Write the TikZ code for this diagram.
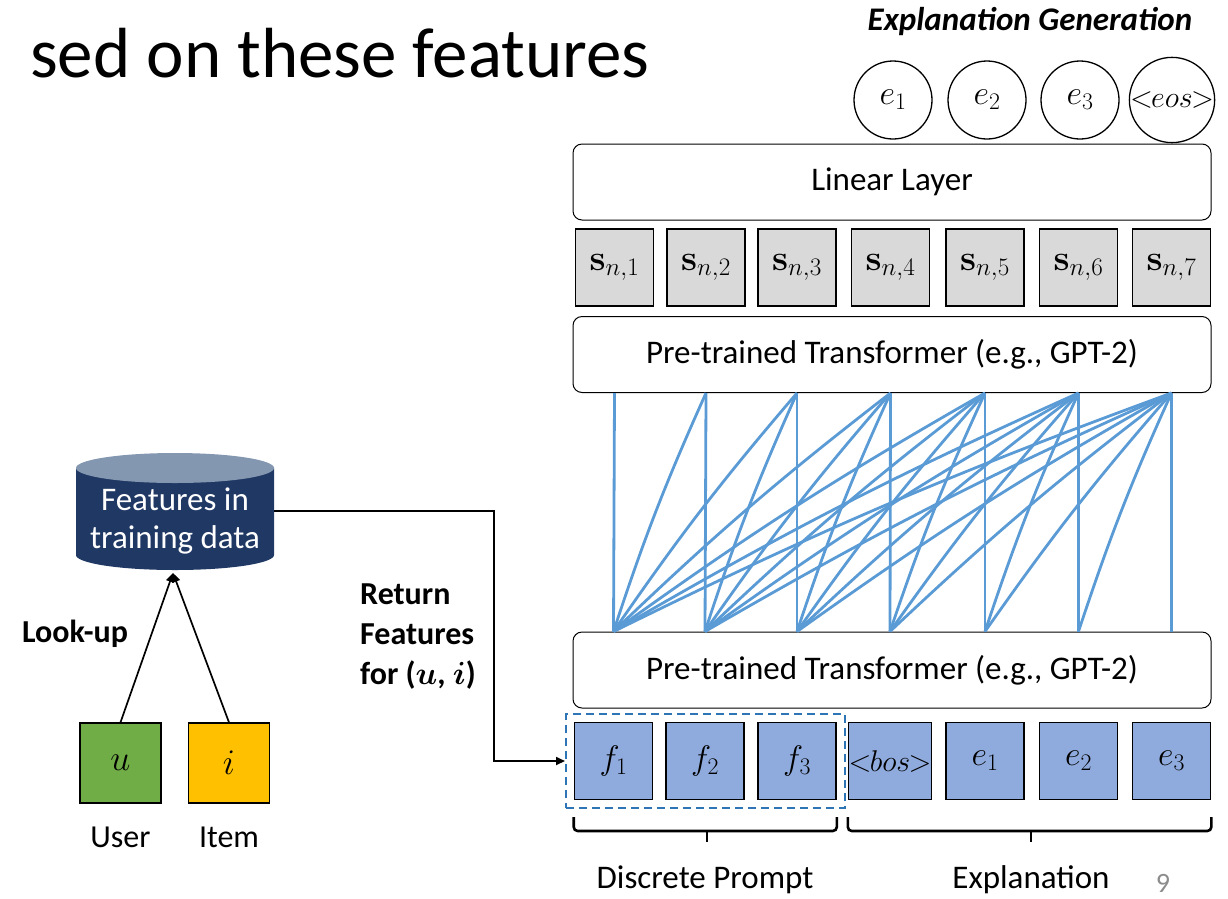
\RequirePackage{fix-cm}
\documentclass[tikz,border=0pt]{standalone}
\usepackage[no-math]{fontspec}
\usepackage{bm}
\setmainfont{Carlito}
\usetikzlibrary{arrows.meta,calc}

\definecolor{attn}{HTML}{5B9BD5}
\definecolor{tokfill}{HTML}{8FAADC}
\definecolor{sfill}{HTML}{D9D9D9}
\definecolor{dashblue}{HTML}{2E75B6}
\definecolor{dbnavy}{HTML}{203864}
\definecolor{dbtop}{HTML}{8497B0}
\definecolor{userg}{HTML}{70AD47}
\definecolor{itemy}{HTML}{FFC000}
\definecolor{pagegrey}{HTML}{8C8C8C}

\tikzset{
  widebox/.style={draw, rounded corners=9pt, line width=1pt, minimum width=638pt,
    minimum height=76pt, inner sep=0pt, font=\fontsize{33}{40}\selectfont},
  sbox/.style={draw, fill=sfill, line width=1.6pt, minimum width=78pt,
    minimum height=77pt, inner sep=0pt, font=\fontsize{36}{40}\selectfont},
  tokbox/.style={draw, fill=tokfill, line width=1.6pt, minimum width=78pt,
    minimum height=77pt, inner sep=0pt, font=\fontsize{34}{40}\selectfont},
  outcirc/.style={circle, draw, line width=1.3pt, minimum size=78pt, inner sep=0pt,
    font=\fontsize{34}{40}\selectfont},
  keybox/.style={draw, line width=1.3pt, minimum width=81pt, minimum height=80pt,
    inner sep=0pt, font=\fontsize{36}{40}\selectfont},
  attnline/.style={draw=attn, line width=2.8pt},
  blackarrow/.style={draw, line width=1.7pt, -{Triangle[length=9pt,width=8pt]}},
  bracket/.style={draw, line width=2.6pt, rounded corners=4pt},
  lbl/.style={font=\fontsize{32}{38}\selectfont, inner sep=0pt},
  boldlbl/.style={font=\fontsize{32}{40}\selectfont\bfseries, inner sep=0pt, align=left},
}

\begin{document}
\begin{tikzpicture}[x=1pt, y=-1pt]
\useasboundingbox (0,0) rectangle (1228,898);

% slide title fragment
\node[anchor=base west, inner sep=0pt, font=\fontsize{71}{80}\selectfont] (title) at (30,77) {sed on these features};

% output tokens
\node[font=\fontsize{33}{38}\selectfont\bfseries\itshape, inner sep=0pt] (gen) at (1030,22) {Explanation Generation};
\node[outcirc] (o1) at (893,100) {$e_1$};
\node[outcirc] (o2) at (987,100) {$e_2$};
\node[outcirc] (o3) at (1080,100) {$e_3$};
\node[outcirc, font=\fontsize{30}{34}\selectfont] (o4) at (1172,100) {$<\!\!eos\!\!>$};

% stacked layers
\node[widebox] (lin) at (892,182) {Linear Layer};
\node[widebox] (T2) at (892,354.5) {Pre-trained Transformer (e.g., GPT-2)};
\node[widebox] (T1) at (892,670) {Pre-trained Transformer (e.g., GPT-2)};

% hidden states
\foreach \k/\x in {1/614.5,2/706,3/797,4/890.5,5/985,6/1078.5,7/1171.5}
  \node[sbox] (s\k) at (\x,267.5) {$\mathbf{s}_{n,\k}$};

% input tokens
\node[tokbox] (i1) at (613.5,761) {$f_1$};
\node[tokbox] (i2) at (705,761) {$f_2$};
\node[tokbox] (i3) at (797,761) {$f_3$};
\node[tokbox, font=\fontsize{30}{34}\selectfont] (i4) at (890,761) {$<\!\!bos\!\!>$};
\node[tokbox] (i5) at (985,761) {$e_1$};
\node[tokbox] (i6) at (1078.5,761) {$e_2$};
\node[tokbox] (i7) at (1171.5,761) {$e_3$};

% prompt frame
\node[draw=dashblue, line width=2pt, dash pattern=on 8pt off 5pt, minimum width=279pt,
  minimum height=94pt, inner sep=0pt] (prompt) at (705.5,761) {};

% causal attention between the two transformer blocks
\foreach \i in {1,...,7}{
  \foreach \j in {\i,...,7}{
    \ifnum\i=\j
      \draw[attnline] (i\i |- T1.north) -- (s\j |- T2.south);
    \else
      \draw[attnline] (i\i |- T1.north) to[bend left=3] (s\j |- T2.south);
    \fi
  }
}

% braces under the inputs
\coordinate (pb) at (707,842);
\coordinate (eb) at (1031,842);
\draw[bracket] (i1.west |- 0,817) -- (i1.west |- 0,831) -- (i3.east |- 0,831) -- (i3.east |- 0,817);
\draw[line width=2.6pt] (pb |- 0,830) -- (pb);
\draw[bracket] (i4.west |- 0,817) -- (i4.west |- 0,831) -- (i7.east |- 0,831) -- (i7.east |- 0,817);
\draw[line width=2.6pt] (eb |- 0,830) -- (eb);
\node[lbl, font=\fontsize{33}{38}\selectfont] (dp) at (705,880) {Discrete Prompt};
\node[lbl, font=\fontsize{33}{38}\selectfont] (ex) at (1031,880) {Explanation};
\node[lbl, text=pagegrey, font=\fontsize{28}{32}\selectfont, anchor=base] (pg) at (1163,892) {9};

% feature database
\fill[dbnavy] (76,468) -- (76,555) arc[start angle=180, end angle=0, x radius=99, y radius=15] -- (274,468) -- cycle;
\fill[dbtop] (175,468) ellipse[x radius=99, y radius=15];
\node[inner sep=0pt, minimum width=198pt, minimum height=118pt] (db) at (175,511) {};
\node[text=white, align=center, font=\fontsize{33}{38}\selectfont, inner sep=0pt] (dbtxt) at (175,521) {Features in\\training data};

% user and item
\node[keybox, fill=userg] (u) at (120.5,763) {$u$};
\node[keybox, fill=itemy] (it) at (229,763) {$i$};
\node[lbl] (ul) at (120.5,837) {User};
\node[lbl] (il) at (229,837) {Item};

\coordinate (dbin) at (173,573);
\draw[blackarrow] (u.north) -- (dbin);
\draw[blackarrow] (it.north) -- (dbin);
\node[boldlbl] (look) at (75,634) {Look-up};

% returned features
\coordinate (turn) at (494,511);
\draw[blackarrow] (db.east) -- (turn) |- (prompt.west);
\node[boldlbl, anchor=north west] (ret) at (360,584) {Return\\Features\\for ($\bm{u}$, $\bm{i}$)};

\end{tikzpicture}
\end{document}
